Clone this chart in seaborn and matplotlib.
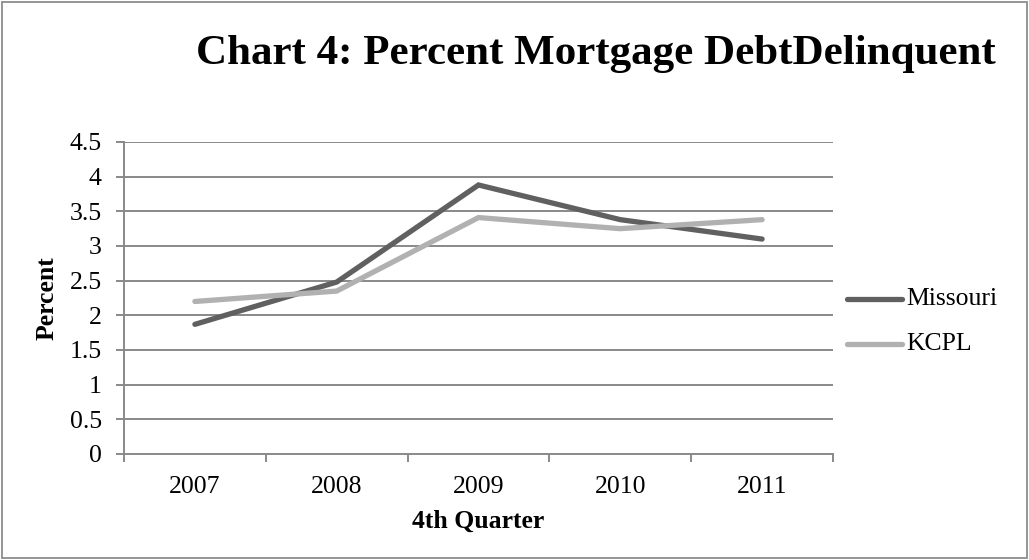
import matplotlib
matplotlib.use("Agg")
import matplotlib.pyplot as plt
import seaborn as sns
import pandas as pd
from matplotlib.patches import Rectangle
from matplotlib.ticker import FixedLocator

years = ["2007", "2008", "2009", "2010", "2011"]
missouri = [1.87, 2.48, 3.88, 3.38, 3.10]
kcpl = [2.20, 2.35, 3.41, 3.25, 3.38]
series_names = ["Missouri", "KCPL"]
y_ticks = [0, 0.5, 1, 1.5, 2, 2.5, 3, 3.5, 4, 4.5]
y_tick_labels = ["0", "0.5", "1", "1.5", "2", "2.5", "3", "3.5", "4", "4.5"]

df = pd.DataFrame({
    "Year": years * 2,
    "x": list(range(len(years))) * 2,
    "Percent": missouri + kcpl,
    "Series": [series_names[0]] * len(years) + [series_names[1]] * len(years),
})

sns.set_theme(style="white")
plt.rcParams["font.family"] = ["Liberation Serif", "DejaVu Serif"]
plt.rcParams["text.color"] = "black"
plt.rcParams["axes.labelcolor"] = "black"

fig = plt.figure(figsize=(10.29, 5.6), dpi=100)
ax = fig.add_axes([124 / 1029, 1 - 454 / 560, (833 - 124) / 1029, (454 - 142) / 560])

grid_color = "#898989"
for v in y_ticks[1:]:
    ax.axhline(v, color=grid_color, lw=1.4, zorder=1)

colors = {"Missouri": "#606060", "KCPL": "#b1b1b1"}
sns.lineplot(data=df, x="x", y="Percent", hue="Series", palette=colors,
             linewidth=3.8, ax=ax, legend=False, zorder=3)
for line in ax.lines:
    line.set_solid_capstyle("round")
    line.set_solid_joinstyle("miter")

ax.set_xlim(-0.5, len(years) - 0.5)
ax.set_ylim(0, 4.5)
ax.set_xticks(range(len(years)))
ax.set_xticklabels(years)
ax.xaxis.set_minor_locator(FixedLocator([i - 0.5 for i in range(len(years) + 1)]))
ax.set_yticks(y_ticks)
ax.set_yticklabels(y_tick_labels)

for s in ["top", "right"]:
    ax.spines[s].set_visible(False)
for s in ["left", "bottom"]:
    ax.spines[s].set_color(grid_color)
    ax.spines[s].set_linewidth(1.4)

ax.tick_params(axis="x", which="major", length=0, labelsize=18.5, pad=16, labelcolor="black")
ax.tick_params(axis="x", which="minor", length=6, width=1.4, color=grid_color, direction="out", bottom=True)
ax.tick_params(axis="y", which="major", length=6, width=1.4, color=grid_color, direction="out",
               labelsize=18.5, pad=10, left=True, labelcolor="black")

ax.set_xlabel("4th Quarter", fontsize=18.5, fontweight="bold", labelpad=8)
ax.set_ylabel("Percent", fontsize=18.5, fontweight="bold", labelpad=8)

fig.text(596 / 1029, 1 - 54 / 560, "Chart 4: Percent Mortgage DebtDelinquent",
         ha="center", va="center", fontsize=31, fontweight="bold")

# legend
for i, name in enumerate(series_names):
    yy = 1 - (299 + 45 * i) / 560
    fig.add_artist(plt.Line2D([847 / 1029, 902 / 1029], [yy, yy], color=colors[name], lw=3.8,
                              solid_capstyle="round", transform=fig.transFigure))
    fig.text(906 / 1029, yy, name, ha="left", va="center", fontsize=18.5)

fig.add_artist(Rectangle((2 / 1029, 2 / 560), 1025 / 1029, 556 / 560, fill=False,
                         edgecolor="#8c8c8c", lw=1.3, transform=fig.transFigure))

fig.savefig("out.png", dpi=100)
